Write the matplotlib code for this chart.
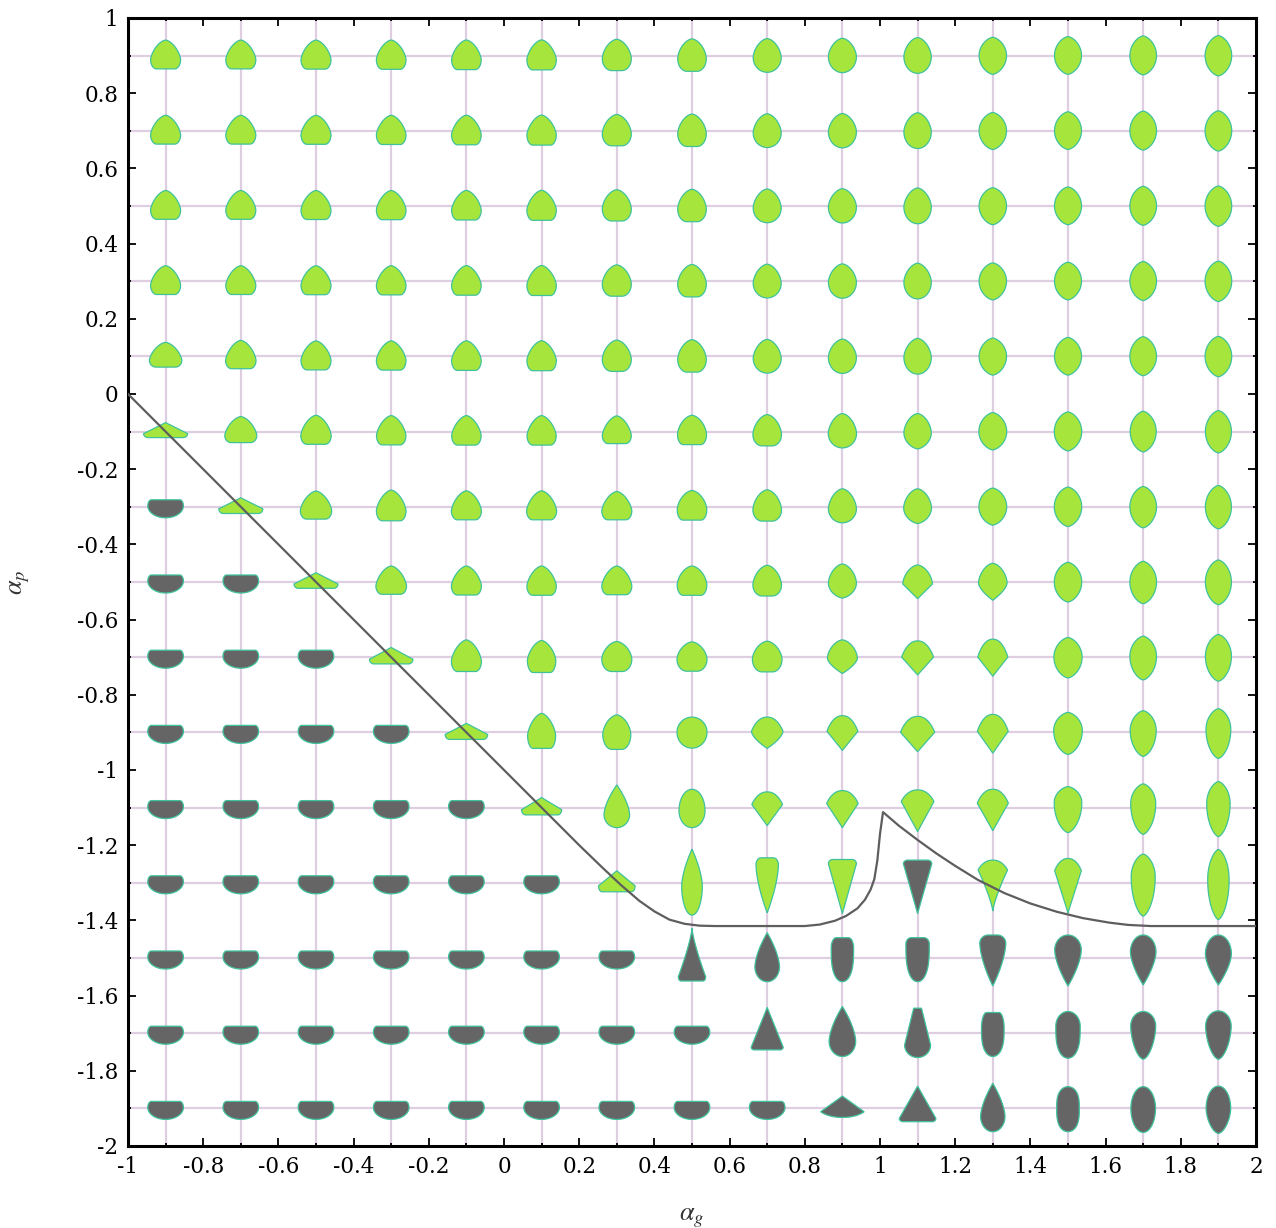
import numpy as np
import matplotlib
matplotlib.use("Agg")
import matplotlib.pyplot as plt
from matplotlib.patches import Polygon
from matplotlib.transforms import Affine2D, ScaledTranslation
from matplotlib.ticker import MultipleLocator, FixedLocator, FuncFormatter

# ---------------- data ----------------
alpha_g = [-0.9, -0.7, -0.5, -0.3, -0.1, 0.1, 0.3, 0.5, 0.7, 0.9, 1.1, 1.3, 1.5, 1.7, 1.9]
alpha_p = [0.9, 0.7, 0.5, 0.3, 0.1, -0.1, -0.3, -0.5, -0.7, -0.9, -1.1, -1.3, -1.5, -1.7, -1.9]

# g = green (upper phase), d = dark (lower phase)
phase = [
    "ggggggggggggggg",
    "ggggggggggggggg",
    "ggggggggggggggg",
    "ggggggggggggggg",
    "ggggggggggggggg",
    "ggggggggggggggg",
    "dgggggggggggggg",
    "ddggggggggggggg",
    "dddgggggggggggg",
    "ddddggggggggggg",
    "dddddgggggggggg",
    "ddddddggggdgggg",
    "ddddddddddddddd",
    "ddddddddddddddd",
    "ddddddddddddddd",
]

# glyph outline descriptors:
# (half width, height of widest point, top extent, top style, bottom extent, bottom style)
HD = (17.8, 1.0, 7.0, 'f', 11.0, 'r')
upper = [
    (15.0, -4, 15.5, 'b', 13.3, 'q'), (15.0, -4, 15.5, 'b', 13.3, 'q'),
    (15.0, -4, 15.5, 'b', 13.5, 'q'), (14.8, -4, 15.5, 'b', 13.7, 'q'),
    (14.8, -4, 15.6, 'b', 14.0, 'q'), (14.7, -4, 15.7, 'b', 14.3, 'q'),
    (14.5, -3, 16.3, 'e', 15.0, 'h'), (14.3, -3, 16.7, 'e', 15.7, 'h'),
    (14.0, -2, 17.0, 'e', 16.7, 'r'), (14.0, -1, 17.3, 'e', 17.0, 'r'),
    (13.7, -1, 18.0, 'e', 17.7, 'r'), (13.7, 0, 18.3, 'l', 18.7, 'l'),
    (13.5, 0, 19.0, 'l', 18.7, 'l'), (13.3, 0, 19.7, 'l', 19.3, 'l'),
    (13.3, 0, 20.0, 'l', 20.3, 'l'),
]
row_01 = [(16.2, -4, 14.0, 'b', 10.7, 'q'), (15.2, -4, 16.0, 'b', 12.3, 'q')] + upper[2:]
row_m01 = [
    (22.0, -2, 9.0, 'c', 6.0, 'f'), (16.0, -4, 15.0, 'b', 11.0, 'q'),
    (15.2, -4, 16.3, 'b', 12.7, 'q'), (14.7, -4, 16.0, 'b', 13.3, 'q'),
    (14.7, -4, 16.0, 'b', 13.5, 'q'), (14.6, -4, 16.0, 'b', 13.5, 'q'),
    (14.5, -4, 15.7, 'b', 12.0, 'q'), (14.5, -3, 16.3, 'e', 13.0, 'q'),
    (14.3, -3, 17.0, 'e', 14.3, 'h'), (14.1, -2, 18.0, 'e', 16.3, 'r'),
    (13.7, -1, 18.0, 'e', 17.3, 'l'), (13.9, 0, 19.0, 'l', 18.3, 'l'),
    (13.7, 0, 19.7, 'l', 19.3, 'l'), (13.0, 0, 20.3, 'l', 20.3, 'l'),
    (13.0, 0, 21.0, 'l', 21.3, 'l'),
]
row_m03 = [
    HD, (22.0, -2, 9.0, 'c', 6.7, 'f'),
    (15.7, -4, 15.7, 'b', 12.3, 'q'), (14.8, -4, 16.7, 'b', 14.0, 'q'),
    (15.0, -4, 16.0, 'b', 13.0, 'q'), (15.0, -4, 16.0, 'b', 13.0, 'q'),
    (15.0, -4, 15.3, 'b', 13.0, 'q'), (14.8, -3, 16.3, 'e', 13.3, 'q'),
    (14.3, -3, 17.0, 'e', 14.3, 'h'), (14.0, -2, 18.0, 'e', 16.0, 'r'),
    (13.9, -1, 18.0, 'e', 16.7, 'l'), (13.9, 0, 18.7, 'l', 18.3, 'l'),
    (13.7, 0, 19.7, 'l', 19.7, 'l'), (13.3, 0, 20.3, 'l', 21.0, 'l'),
    (13.0, 0, 21.3, 'l', 22.0, 'l'),
]
row_m05 = [
    HD, HD, (22.0, -2, 9.3, 'c', 6.3, 'f'),
    (15.3, -4, 16.0, 'b', 12.3, 'q'), (15.0, -4, 16.0, 'b', 13.0, 'q'),
    (14.7, -4, 16.0, 'b', 13.3, 'q'), (15.0, -4, 16.0, 'b', 12.7, 'q'),
    (14.8, -3, 16.0, 'e', 13.3, 'q'), (14.3, -3, 16.7, 'e', 14.0, 'h'),
    (14.0, -1, 18.0, 'e', 16.0, 'l'), (14.8, -2, 17.0, 'e', 16.7, 'c'),
    (14.3, -1, 18.7, 'e', 18.3, 'p'), (13.7, 0, 19.7, 'l', 20.0, 'l'),
    (13.3, 0, 20.7, 'l', 21.7, 'l'), (13.0, 0, 22.0, 'l', 22.7, 'l'),
]
row_m07 = [
    HD, HD, HD, (21.7, -2, 9.7, 'c', 6.7, 'f'),
    (15.0, -4, 17.3, 'b', 14.3, 'q'), (14.2, -3, 16.7, 'b', 15.3, 'q'),
    (15.0, -2, 15.7, 'e', 14.3, 'h'), (15.0, -2, 15.3, 'e', 14.0, 'h'),
    (14.8, -2, 16.0, 'e', 14.7, 'h'), (15.0, -1, 17.3, 'e', 16.3, 'p'),
    (15.9, 0, 16.3, 'd', 17.7, 'c'), (15.0, 0, 18.0, 'd', 19.0, 'c'),
    (14.1, 0, 19.7, 'l', 20.7, 'l'), (13.3, 1, 21.0, 'l', 22.7, 'l'),
    (13.0, 1, 22.7, 'l', 24.0, 'l'),
]
row_m09 = [
    HD, HD, HD, HD, (21.2, -2, 9.0, 'c', 7.0, 'f'),
    (14.0, -3, 19.0, 'b', 16.0, 'q'), (14.0, -2, 17.5, 'e', 17.0, 'h'),
    (15.0, 0, 15.3, 'r', 15.7, 'r'), (15.7, 1, 15.3, 'd', 16.0, 'p'),
    (15.4, 1, 16.7, 'd', 18.0, 'c'), (17.0, 0, 16.0, 'd', 19.3, 'c'),
    (15.4, 1, 18.0, 'd', 20.7, 'c'), (14.3, 2, 20.0, 'l', 22.0, 'l'),
    (13.0, 2, 21.7, 'l', 24.0, 'l'), (12.4, 3, 23.7, 'l', 26.0, 'l'),
]
row_m11 = [
    HD, HD, HD, HD, HD, (20.0, -2, 10.0, 'c', 7.3, 'f'),
    (12.8, -7, 22.7, 'p', 20.0, 'r'), (13.0, -3, 18.3, 'r', 20.0, 'r'),
    (15.3, 3, 15.7, 'd', 18.0, 'c'), (15.7, 4, 17.0, 'd', 20.0, 'c'),
    (16.3, 6, 17.7, 'd', 24.0, 'c'), (15.5, 4.3, 18.3, 'd', 23.0, 'c'),
    (13.8, 5, 21.0, 'l', 25.0, 'l'), (12.5, 4, 23.7, 'l', 26.7, 'l'),
    (11.7, 4, 26.0, 'l', 29.0, 'l'),
]
row_m13 = [
    HD, HD, HD, HD, HD, HD, (18.3, -3, 12.0, 'c', 9.0, 'f'),
    (10.3, -3, 33.7, 'p', 32.3, 'r'), (11.2, 18, 25.0, 'g', 30.0, 'p'),
    (14.0, 19, 23.3, 'j', 30.7, 'c'), (14.2, 19, 22.7, 'j', 30.7, 'c'),
    (14.7, 12.7, 22.7, 'd', 28.3, 'k'), (13.3, 12, 24.3, 'd', 30.0, 'c'),
    (12.0, 6, 28.7, 'l', 33.3, 'l'), (10.7, 3, 33.3, 'l', 36.7, 'l'),
]
row_m15 = [
    HD, HD, HD, HD, HD, HD, HD,
    (13.7, -18.7, 29.7, 'k', 23.0, 'f'), (12.3, -8.7, 25.3, 'p', 23.7, 'r'),
    (11.2, 10, 20.3, 'g', 23.7, 's'), (11.7, 14, 20.3, 'g', 23.7, 's'),
    (13.0, 14.7, 23.0, 'h', 28.0, 'p'), (13.3, 8, 23.0, 'r', 28.0, 'p'),
    (12.8, 6, 23.0, 'r', 27.0, 'p'), (13.0, 4, 23.0, 'r', 27.0, 'p'),
]
row_m17 = [
    HD, HD, HD, HD, HD, HD, HD, HD,
    (16.0, -14, 25.7, 'c', 16.7, 'f'), (13.3, -8, 26.7, 'p', 23.3, 'r'),
    (13.0, -11.7, 25.0, 'n', 24.3, 'r'), (11.3, 5, 20.7, 'g', 23.3, 's'),
    (12.2, 7, 21.7, 'r', 25.0, 's'), (12.5, 7, 21.7, 'r', 26.0, 'e'),
    (12.8, 7, 22.3, 'r', 26.0, 'e'),
]
row_m19 = [
    HD, HD, HD, HD, HD, HD, HD, HD, HD,
    (21.7, -3.3, 12.3, 'c', 9.0, 'd'), (18.3, -10, 22.3, 'c', 13.3, 'f'),
    (12.2, -8, 25.0, 'p', 23.3, 'r'), (11.3, 0, 21.7, 's', 23.3, 's'),
    (12.3, 0, 21.7, 'r', 24.0, 'r'), (12.3, 0, 22.3, 'r', 25.0, 'e'),
]
glyphs = [upper, upper, upper, upper, row_01, row_m01, row_m03, row_m05,
          row_m07, row_m09, row_m11, row_m13, row_m15, row_m17, row_m19]

# phase boundary curve
curve_g = [-1.0, 0.20, 0.26, 0.31, 0.36, 0.40, 0.44, 0.48, 0.52, 0.56, 0.80, 0.84,
           0.88, 0.91, 0.94, 0.96, 0.975, 0.985, 0.993, 1.000, 1.008,
           1.05, 1.10, 1.15, 1.20, 1.26, 1.33, 1.40, 1.47, 1.54, 1.61, 1.66, 1.72, 2.0]
curve_p = [0.0, -1.20, -1.258, -1.305, -1.348, -1.376, -1.398, -1.409, -1.414, -1.415, -1.415, -1.411,
           -1.401, -1.388, -1.368, -1.345, -1.318, -1.29, -1.24, -1.17, -1.112,
           -1.148, -1.186, -1.222, -1.255, -1.292, -1.327, -1.355, -1.377, -1.394, -1.406, -1.412, -1.415, -1.415]

# ---------------- styles ----------------
STY = {  # flat fraction, exponent a, exponent b  -> w = f + (1-f)(1-s^a)^b
    'r': (0.0, 2.0, 0.5), 'b': (0.0, 1.5, 0.62), 'e': (0.0, 1.7, 0.6),
    'l': (0.0, 2.0, 0.65), 'p': (0.0, 1.6, 1.0), 'c': (0.0, 1.0, 1.0),
    'k': (0.0, 1.0, 1.3), 'd': (0.0, 1.15, 0.45), 'q': (0.6, 2.0, 0.5),
    'h': (0.35, 2.0, 0.5), 'f': (0.8, 2.0, 0.5), 's': (0.0, 3.0, 0.5),
    'n': (0.3, 1.0, 1.0), 'g': (0.55, 2.0, 0.5), 'j': (0.7, 2.0, 0.5),
}
GREEN, DARK, EDGE = '#a6e63c', '#656565', '#3fc29c'
GRIDC = '#dfcde1'

plt.rcParams['font.family'] = ['DejaVu Serif']
plt.rcParams['mathtext.fontset'] = 'stix'

fig = plt.figure(figsize=(12.76, 12.28), dpi=100)
ax = fig.add_axes([128 / 1276, 1 - 1146 / 1228, 1128 / 1276, 1128 / 1228])
ax.set_xlim(-1, 2)
ax.set_ylim(-2, 1)


def outline(W, ym, ht, ts, hb, bs, n=70):
    ft, at, bt = STY[ts]
    fb, ab, bb = STY[bs]
    s = np.sin(np.linspace(0, np.pi / 2, n))
    yt = ym + s * (ht - ym)
    wt = W * (ft + (1 - ft) * np.clip(1 - s ** at, 0, None) ** bt)
    yb = ym - s * (ym + hb)
    wb = W * (fb + (1 - fb) * np.clip(1 - s ** ab, 0, None) ** bb)
    ry = np.concatenate([yb[::-1], yt[1:]])
    rx = np.concatenate([wb[::-1], wt[1:]])
    xs = np.concatenate([rx, -rx[::-1]])
    ys = np.concatenate([ry, ry[::-1]])
    return np.column_stack([xs, ys])


px = Affine2D().scale(1 / 100.0) + fig.dpi_scale_trans
for i, p in enumerate(alpha_p):
    for j, g in enumerate(alpha_g):
        verts = outline(*glyphs[i][j])
        col = GREEN if phase[i][j] == 'g' else DARK
        tr = px + ScaledTranslation(g, p, ax.transData)
        ax.add_patch(Polygon(verts, closed=True, transform=tr, facecolor=col,
                             edgecolor=EDGE, linewidth=0.9, zorder=3))

ax.plot(curve_g, curve_p, color='#5e5e5e', lw=1.6, zorder=4, solid_joinstyle='round')

ax.xaxis.set_major_locator(MultipleLocator(0.2))
ax.yaxis.set_major_locator(MultipleLocator(0.2))
ax.xaxis.set_minor_locator(FixedLocator(alpha_g))
ax.yaxis.set_minor_locator(FixedLocator(alpha_p))
fmt = FuncFormatter(lambda v, pos: f"{round(v, 2):g}" if abs(v) > 1e-9 else "0")
ax.xaxis.set_major_formatter(fmt)
ax.yaxis.set_major_formatter(fmt)
ax.grid(which='minor', color=GRIDC, lw=1.6, zorder=0)
ax.grid(which='major', visible=False)
ax.set_axisbelow(True)
ax.tick_params(which='both', direction='in', top=True, right=True, width=1.3, color='black')
ax.tick_params(which='major', length=5.5, labelsize=15.5, pad=7)
ax.tick_params(which='minor', length=2.5)
for sp in ax.spines.values():
    sp.set_linewidth(2.2)

ax.set_xlabel(r'$\alpha_g$', fontsize=19, color='#333333', labelpad=20)
ax.set_ylabel(r'$\alpha_p$', fontsize=19, color='#333333', labelpad=32)

fig.savefig('out.png', dpi=100)
